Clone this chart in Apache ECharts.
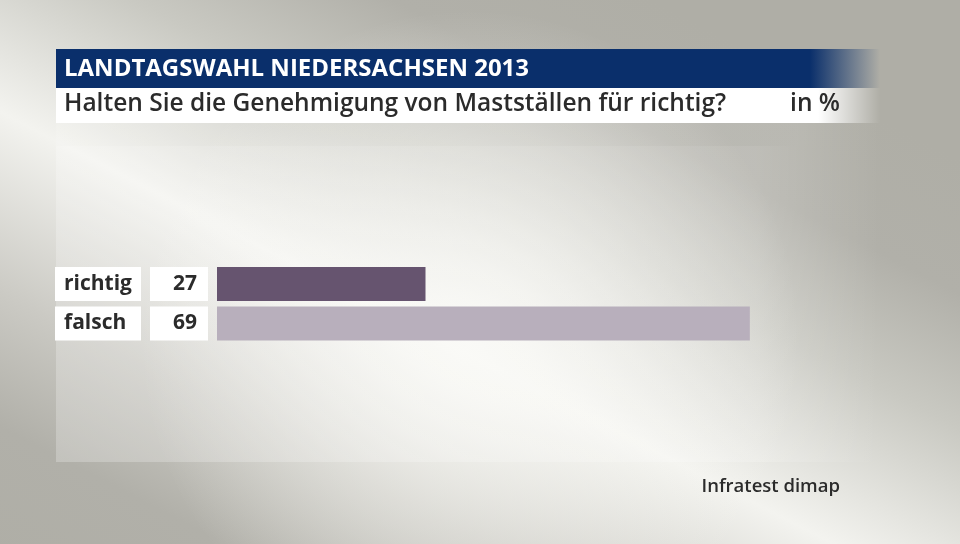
<!DOCTYPE html>
<html>
<head>
<meta charset="utf-8">
<script src="https://cdn.jsdelivr.net/npm/echarts@6/dist/echarts.min.js"></script>
<style>
html,body{margin:0;padding:0;}
#chart{width:960px;height:544px;}
</style>
</head>
<body>
<div id="chart"></div>
<script>
// ---- data ----
const titleText = 'LANDTAGSWAHL NIEDERSACHSEN 2013';
const subtitleText = 'Halten Sie die Genehmigung von Mastställen für richtig?';
const unitText = 'in %';
const sourceText = 'Infratest dimap';
const categories = ['richtig', 'falsch'];
const values = [27, 69];
const barColors = ['#66546f', '#b8afbc'];

const FONT = '"Open Sans", "Noto Sans", sans-serif';
const chart = echarts.init(document.getElementById('chart'), null, {renderer: 'canvas'});

const option = {
  animation: false,
  backgroundColor: {
    type: 'linear', global: true,
    x: 634, y: -10, x2: 266, y2: 700,
    colorStops: [
      {offset: 0, color: '#afaea6'},
      {offset: 0.15, color: '#b1b0a9'},
      {offset: 0.3, color: '#c9c9c2'},
      {offset: 0.5, color: '#f3f3ef'},
      {offset: 0.7, color: '#cbcac4'},
      {offset: 0.85, color: '#b1b0a9'},
      {offset: 1, color: '#afaea6'}
    ]
  },
  graphic: [
    { type: 'rect', z: -100, silent: true,
      shape: {x: 0, y: 0, width: 960, height: 544},
      style: {fill: {type: 'radial', global: true, x: 470, y: 340, r: 330,
        colorStops: [{offset: 0, color: 'rgba(250,250,246,0.85)'}, {offset: 1, color: 'rgba(250,250,246,0)'}]}}
    },
    { type: 'rect', z: -99, silent: true,
      shape: {x: 56, y: 123, width: 824, height: 23},
      style: {fill: {type: 'linear', x: 0, y: 0, x2: 1, y2: 0,
        colorStops: [{offset: 0, color: 'rgba(255,255,255,0.12)'}, {offset: 0.9, color: 'rgba(255,255,255,0.12)'}, {offset: 1, color: 'rgba(255,255,255,0)'}]}}
    },
    { type: 'rect', z: -99, silent: true,
      shape: {x: 56, y: 146, width: 824, height: 316},
      style: {fill: {type: 'linear', x: 0, y: 0, x2: 1, y2: 0,
        colorStops: [{offset: 0, color: 'rgba(255,255,255,0.24)'}, {offset: 0.85, color: 'rgba(255,255,255,0.18)'}, {offset: 1, color: 'rgba(255,255,255,0)'}]}}
    },
    { type: 'rect', z: -98, silent: true,
      shape: {x: 56, y: 49, width: 824, height: 39},
      style: {fill: {type: 'linear', x: 0, y: 0, x2: 1, y2: 0,
        colorStops: [{offset: 0, color: '#0a2f6b'}, {offset: 0.915, color: '#0a2f6b'}, {offset: 1, color: 'rgba(10,47,107,0)'}]}}
    },
    { type: 'rect', z: -98, silent: true,
      shape: {x: 56, y: 88, width: 824, height: 35},
      style: {fill: {type: 'linear', x: 0, y: 0, x2: 1, y2: 0,
        colorStops: [{offset: 0, color: '#ffffff'}, {offset: 0.925, color: '#ffffff'}, {offset: 1, color: 'rgba(255,255,255,0)'}]}}
    }
  ],
  title: [
    { text: titleText, left: 64, top: 57, padding: 0,
      textStyle: {color: '#ffffff', fontFamily: FONT, fontWeight: 700, fontSize: 24} },
    { text: subtitleText, left: 64, top: 92, padding: 0,
      textStyle: {color: '#2b2b2b', fontFamily: FONT, fontWeight: 600, fontSize: 24.5} },
    { text: unitText, right: 120, top: 92, padding: 0,
      textStyle: {color: '#2b2b2b', fontFamily: FONT, fontWeight: 600, fontSize: 24.5} },
    { text: sourceText, right: 120, top: 477, padding: 0,
      textStyle: {color: '#2b2b2b', fontFamily: FONT, fontWeight: 600, fontSize: 18.5} }
  ],
  grid: {left: 217, top: 264.25, width: 695, height: 79, containLabel: false},
  xAxis: {type: 'value', min: 0, max: 90, show: false},
  yAxis: {
    type: 'category', data: categories, inverse: true,
    axisLine: {show: false}, axisTick: {show: false}, splitLine: {show: false},
    axisLabel: {
      margin: 9,
      formatter: function (v, i) { return '{a|' + v + '}{s|}{b|' + values[i] + '}'; },
      rich: {
        a: {width: 77, height: 34, lineHeight: 34, padding: [0, 0, 0, 9], align: 'left',
            backgroundColor: '#ffffff', color: '#2b2b2b', fontFamily: FONT, fontWeight: 700, fontSize: 21},
        s: {width: 9, height: 34},
        b: {width: 47, height: 34, lineHeight: 34, padding: [0, 11, 0, 0], align: 'right',
            backgroundColor: '#ffffff', color: '#2b2b2b', fontFamily: FONT, fontWeight: 700, fontSize: 21}
      }
    }
  },
  series: [{
    type: 'bar',
    barWidth: 34,
    data: values.map((v, i) => ({value: v, itemStyle: {color: barColors[i]}})),
    silent: true
  }]
};
chart.setOption(option);
</script>
</body>
</html>
